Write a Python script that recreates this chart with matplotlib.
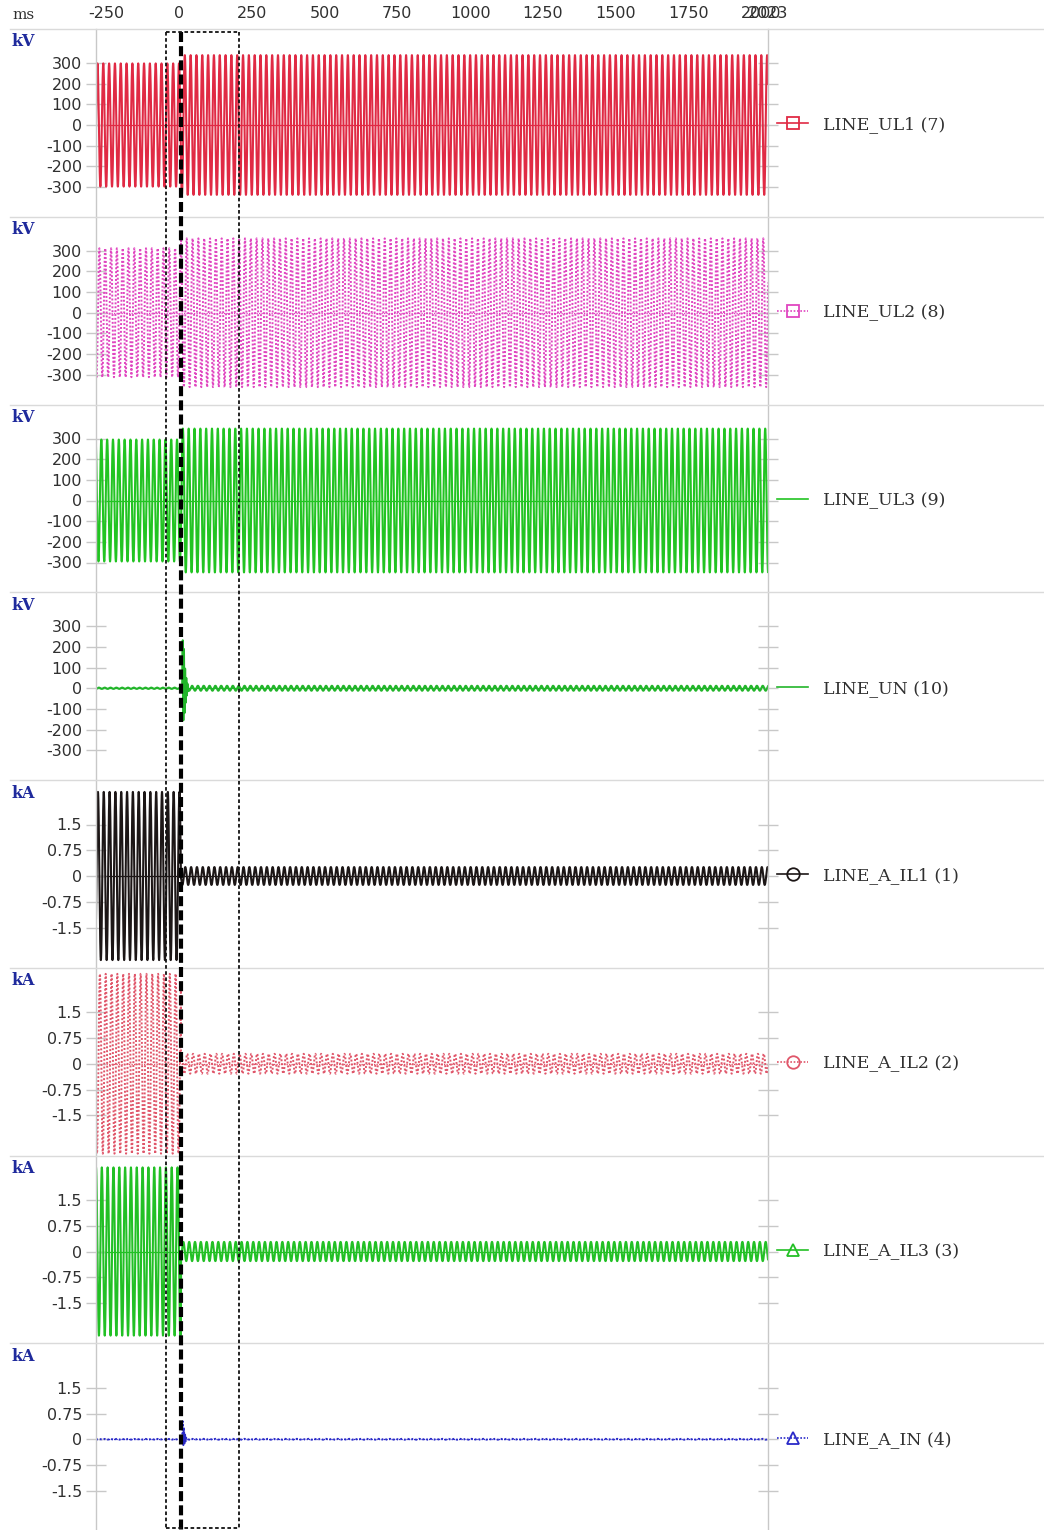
import numpy as np
import matplotlib
matplotlib.use("Agg")
import matplotlib.pyplot as plt
from matplotlib.lines import Line2D
from matplotlib.transforms import blended_transform_factory

# ---- recording window and events (ms) ----
t_start = -285.0
t_end = 2023.0
t_fault = 7.0
t_transient = 11.0
t_box = [-45.0, 205.0]
f_sys = 50.0

# ---- channels ----
channels = ["LINE_UL1 (7)", "LINE_UL2 (8)", "LINE_UL3 (9)", "LINE_UN (10)",
            "LINE_A_IL1 (1)", "LINE_A_IL2 (2)", "LINE_A_IL3 (3)", "LINE_A_IN (4)"]
units = ["kV", "kV", "kV", "kV", "kA", "kA", "kA", "kA"]
pre_peak = [298, 312, 295, 3, 2.45, 2.62, 2.45, 0.01]
post_peak = [338, 360, 348, 12, 0.26, 0.29, 0.28, 0.012]
phase_deg = [90, -30, 210, 0, 60, -60, 180, 0]

# decaying transient on the neutral channels right after the event (one peak every 2 ms)
un_transient = [0, 232, -155, 190, -120, 95, -70, 50, -35, 22, -14]
in_transient = [0, 0.52, -0.17, 0.34, -0.12, 0.16, -0.06, 0.04]
transient_step = 2.0

kv_ticks = [300, 200, 100, 0, -100, -200, -300]
kv_tick_labels = ["300", "200", "100", "0", "-100", "-200", "-300"]
ka_ticks = [1.5, 0.75, 0, -0.75, -1.5]
ka_tick_labels = ["1.5", "0.75", "0", "-0.75", "-1.5"]
x_ticks = [-250, 0, 250, 500, 750, 1000, 1250, 1500, 1750, 2000, 2023]
x_tick_labels = ["-250", "0", "250", "500", "750", "1000", "1250", "1500", "1750", "2000", "2023"]

# ---- styles ----
colors = ["#e02a44", "#e046c0", "#22c422", "#22b52a",
          "#1c1616", "#e0566a", "#22c025", "#2a2ac8"]
styles = ["-", (0, (1, 1)), "-", "-", "-", (0, (1, 1)), "-", (0, (1, 1))]
widths = [1.5, 1.4, 1.5, 1.5, 1.5, 1.4, 1.5, 1.4]
markers = ["s", "s", None, None, "o", "o", "^", "^"]

W, H = 1044, 1530
x0_px, x1_px = 96, 768
top0_px = 29.0
panel_h = 187.75
zero_off = 96.0
kv_per_px = 300 / 62.0
ka_per_px = 1.5 / 51.5

grid_grey = "#c8c8c8"
sep_grey = "#dadada"
text_grey = "#303030"
unit_blue = "#1f2a9c"

fig = plt.figure(figsize=(W / 100, H / 100), dpi=100)
fig.patch.set_facecolor("white")

t = np.arange(t_start, t_end + 0.01, 0.25)


def waveform(i):
    amp = np.where(t < t_fault, pre_peak[i], post_peak[i])
    y = amp * np.sin(2 * np.pi * f_sys * t / 1000.0 + np.radians(phase_deg[i]))
    tt = t
    trans = un_transient if i == 3 else (in_transient if i == 7 else None)
    if trans is not None:
        t_tr = t_transient + transient_step * np.arange(len(trans))
        before = tt < t_transient
        after = tt > t_tr[-1]
        tt = np.concatenate([tt[before], t_tr, tt[after]])
        y = np.concatenate([y[before], np.array(trans, float), y[after]])
    return tt, y


axes = []
for i, name in enumerate(channels):
    top = top0_px + i * panel_h
    ax = fig.add_axes([x0_px / W, 1 - (top + panel_h) / H,
                       (x1_px - x0_px) / W, panel_h / H])
    axes.append(ax)
    per_px = kv_per_px if units[i] == "kV" else ka_per_px
    ylo, yhi = -(panel_h - zero_off) * per_px, zero_off * per_px
    ax.set_xlim(t_start, t_end)
    ax.set_ylim(ylo, yhi)
    ax.set_facecolor("white")

    tt, yy = waveform(i)
    ax.axhline(0, color=colors[i], lw=0.9, ls=styles[i], zorder=1)
    ax.plot(tt, yy, color=colors[i], lw=widths[i], ls=styles[i], zorder=2)

    for s in ["top", "bottom"]:
        ax.spines[s].set_visible(False)
    for s in ["left", "right"]:
        ax.spines[s].set_color(grid_grey)
        ax.spines[s].set_linewidth(1.0)

    if units[i] == "kV":
        ax.set_yticks(kv_ticks)
        ax.set_yticklabels(kv_tick_labels)
    else:
        ax.set_yticks(ka_ticks)
        ax.set_yticklabels(ka_tick_labels)
    ax.tick_params(axis="y", which="both", direction="inout", length=14,
                   color=grid_grey, width=1.0, left=True, right=True,
                   labelleft=True, labelright=False, labelsize=11.5,
                   labelcolor=text_grey, pad=3)
    if i == 0:
        ax.set_xticks(x_ticks)
        ax.set_xticklabels(x_tick_labels)
        ax.tick_params(axis="x", top=True, labeltop=True, bottom=False,
                       labelbottom=False, length=0, pad=6, labelsize=11.5,
                       labelcolor=text_grey)
    else:
        ax.set_xticks([])

    # unit label
    fig.text(12 / W, 1 - (top + 13) / H, units[i], color=unit_blue,
             fontsize=11.5, fontweight="bold", family="DejaVu Serif",
             ha="left", va="center")

    # channel legend to the right of the trace
    zero_frac = (0 - ylo) / (yhi - ylo)
    handle = Line2D([], [], color=colors[i], ls=styles[i], lw=1.2,
                    marker=markers[i], markersize=9, markerfacecolor="none",
                    markeredgecolor=colors[i], markeredgewidth=1.3)
    leg = ax.legend([handle], [name], loc="center left",
                    bbox_to_anchor=((777 - x0_px) / (x1_px - x0_px), zero_frac),
                    frameon=False, borderpad=0, borderaxespad=0,
                    handlelength=1.8, handletextpad=0.85,
                    prop={"family": "DejaVu Serif", "size": 12.5})
    for txt in leg.get_texts():
        txt.set_color(text_grey)

# panel separators
for k in range(len(channels) + 1):
    y = 1 - (top0_px + k * panel_h) / H
    fig.add_artist(Line2D([10 / W, 1.0], [y, y], transform=fig.transFigure,
                          color=sep_grey, lw=1.0))

fig.text(12 / W, 1 - 15 / H, "ms", color=text_grey, fontsize=11,
         family="DejaVu Serif", ha="left", va="center")

# event markers: trigger line and the zoom window box
tr = blended_transform_factory(axes[0].transData, fig.transFigure)
y_top = 1 - 32 / H
y_bot = 1 - 1528 / H
fig.add_artist(Line2D([t_fault, t_fault], [y_top, 0.0], transform=tr,
                      color="black", lw=3.0, ls=(0, (2.4, 1.0)), zorder=10))
for tb in t_box:
    fig.add_artist(Line2D([tb, tb], [y_top, y_bot], transform=tr,
                          color="#111111", lw=1.3, ls=(0, (2.0, 1.4)), zorder=10))
for yb in (y_top, y_bot):
    fig.add_artist(Line2D(t_box, [yb, yb], transform=tr,
                          color="#111111", lw=1.3, ls=(0, (2.0, 1.4)), zorder=10))

fig.savefig("out.png", dpi=100, facecolor="white")
